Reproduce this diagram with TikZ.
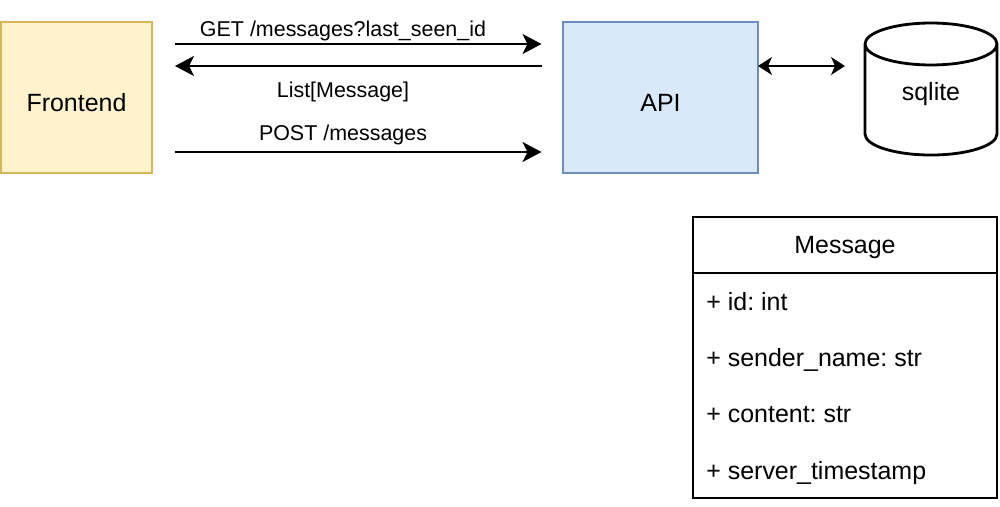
\documentclass[tikz,border=0pt]{standalone}
\usepackage{fontspec}
\setmainfont{Liberation Sans}
\frenchspacing
\usetikzlibrary{arrows.meta,shapes.geometric,positioning}
\definecolor{feFill}{HTML}{FFF2CC}
\definecolor{feLine}{HTML}{D6B656}
\definecolor{apiFill}{HTML}{DAE8FC}
\definecolor{apiLine}{HTML}{6C8EBF}

\begin{document}
\begin{tikzpicture}[
        box/.style={draw, line width=0.8pt, outer sep=0pt, minimum height=3.02cm,
            text height=0.54cm, text depth=0pt, font=\fontsize{14.2}{17}\selectfont},
        >={Stealth[length=0.38cm,width=0.4cm,inset=0.1cm]},
        flow/.style={line width=1pt, shorten <=0.46cm, shorten >=0.43cm},
        lbl/.style={anchor=base, xshift=-0.29cm, font=\fontsize{12.2}{14}\selectfont},
        dblink/.style={{Stealth[length=0.28cm,width=0.36cm,inset=0.08cm]}-{Stealth[length=0.28cm,width=0.36cm,inset=0.08cm]},
            line width=0.75pt, shorten >=0.4cm},
        tbl/.style={draw, line width=0.9pt, outer sep=0pt, minimum width=6.08cm,
            font=\fontsize{14.2}{17}\selectfont},
        field/.style={anchor=base west, inner sep=0pt, font=\fontsize{14.2}{17}\selectfont}
    ]
    \useasboundingbox (0,0) rectangle (20,-10.12);

    \node[box, fill=feFill, draw=feLine, minimum width=3.02cm] (frontend) at (1.53,-1.95) {Frontend};
    \node[box, fill=apiFill, draw=apiLine, minimum width=3.9cm] (api) at (13.21,-1.95) {API};
    \node[cylinder, shape border rotate=90, aspect=0.6, draw, line width=1.6pt, outer sep=0pt, anchor=south,
        minimum width=2.64cm, minimum height=2.64cm, text height=0.365cm, text depth=0.545cm,
        font=\fontsize{14.2}{17}\selectfont] (sqlite) at (18.62,-3.1) {sqlite};

    \draw[flow,->] ([yshift=1.07cm]frontend.east) -- node[lbl, yshift=0.16cm]{GET /messages?last\_seen\_id} ([yshift=1.07cm]api.west);
    \draw[flow,<-] ([yshift=0.63cm]frontend.east) -- node[lbl, yshift=-0.63cm]{List[Message]} ([yshift=0.63cm]api.west);
    \draw[flow,->] ([yshift=-1.09cm]frontend.east) -- node[lbl, yshift=0.23cm]{POST /messages} ([yshift=-1.09cm]api.west);
    \draw[dblink] ([yshift=0.63cm]api.east) -- ([yshift=0.63cm]api.east -| sqlite.west);

    \node[tbl, minimum height=1.12cm, text depth=0pt] (msghead) at (16.9,-4.9) {Message};
    \node[tbl, minimum height=4.5cm, below=0pt of msghead] (msgbody) {};
    \foreach \fld [count=\i] in {+ id: int, + sender\_name: str, + content: str, + server\_timestamp}{
        \node[field] (field\i) at ([xshift=0.26cm, yshift={-0.74cm-(\i-1)*1.127cm}]msgbody.north west) {\fld};
    }
\end{tikzpicture}
\end{document}
